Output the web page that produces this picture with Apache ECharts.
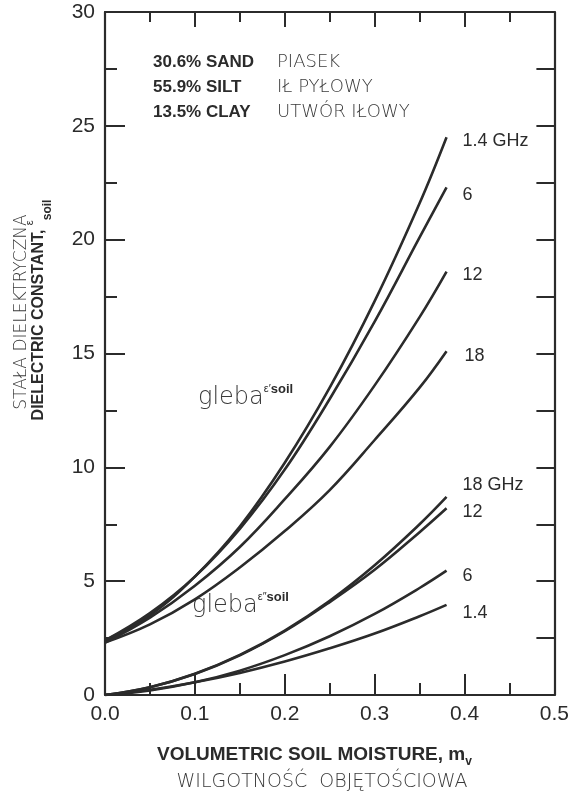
<!DOCTYPE html>
<html>
<head>
<meta charset="utf-8">
<script src="https://cdn.jsdelivr.net/npm/echarts@6/dist/echarts.min.js"></script>
<style>
  html, body { margin: 0; padding: 0; background: #fff; }
  #chart { width: 572px; height: 798px; }
</style>
</head>
<body>
<div id="chart"></div>
<script>
// wilgotnosc objetosciowa (m_v)
const moisture = [0, 0.05, 0.1, 0.15, 0.2, 0.25, 0.3, 0.35, 0.38];

// eps' (czesc rzeczywista)
const real14 = [2.4, 3.5, 5.2, 7.4, 10.2, 13.5, 17.3, 21.6, 24.5];
const real6  = [2.4, 3.6, 5.2, 7.3, 9.9, 13.0, 16.4, 20.1, 22.3];
const real12 = [2.3, 3.4, 4.8, 6.5, 8.6, 10.9, 13.6, 16.6, 18.6];
const real18 = [2.3, 3.1, 4.2, 5.6, 7.2, 9.0, 11.2, 13.5, 15.1];

// eps'' (czesc urojona)
const imag18 = [0, 0.34, 0.93, 1.76, 2.83, 4.14, 5.7, 7.5, 8.7];
const imag12 = [0, 0.34, 0.92, 1.74, 2.8, 4.08, 5.5, 7.15, 8.2];
const imag6  = [0, 0.2, 0.56, 1.07, 1.75, 2.58, 3.56, 4.7, 5.46];
const imag14 = [0, 0.23, 0.56, 0.97, 1.47, 2.05, 2.7, 3.46, 3.96];

const curveLabels = ['1.4 GHz', '6', '12', '18', '18 GHz', '12', '6', '1.4'];
const xTicks = [0, 0.1, 0.2, 0.3, 0.4, 0.5];
const yTicks = [0, 5, 10, 15, 20, 25, 30];

const INK = '#2b2b2b';
const GREY = '#3a3a3a';
const FONT = '"Liberation Sans", Arial, sans-serif';
const THIN = '"DejaVu Sans", sans-serif';

function pairs(ys) {
    return ys.map((y, i) => [moisture[i], y]);
}

const curves = [real14, real6, real12, real18, imag18, imag12, imag6, imag14];
const labelOffsets = [[8, 4], [8, 8], [8, 3], [10, 5], [8, -12], [8, 4], [8, 5], [8, 8]];

const series = curves.map((ys, i) => ({
    type: 'line',
    data: pairs(ys),
    smooth: 0.4,
    showSymbol: false,
    silent: true,
    lineStyle: { color: INK, width: 2.6 },
    endLabel: {
        show: true,
        formatter: curveLabels[i],
        offset: labelOffsets[i],
        color: INK,
        fontFamily: FONT,
        fontSize: 18
    },
    animation: false
}));

const baseAxis = {
    axisLine: { show: true, onZero: false, lineStyle: { color: INK, width: 2.2 } },
    splitLine: { show: false },
    minorSplitLine: { show: false }
};

// tekst z indeksem dolnym / gornym
const subRich = {
    t: { fontFamily: FONT, fontWeight: 'bold', fontSize: 19, fill: INK, lineHeight: 26, verticalAlign: 'middle' },
    y: { fontFamily: FONT, fontWeight: 'bold', fontSize: 16, fill: INK, lineHeight: 26, verticalAlign: 'middle' },
    g: { fontFamily: THIN, fontWeight: 200, fontSize: 24, fill: GREY, lineHeight: 30, verticalAlign: 'middle' },
    sup: { fontFamily: FONT, fontSize: 11, fill: INK, lineHeight: 30, verticalAlign: 'top' },
    sub: { fontFamily: FONT, fontWeight: 'bold', fontSize: 12, fill: INK, lineHeight: 26, verticalAlign: 'bottom' },
    sub2: { fontFamily: FONT, fontWeight: 'bold', fontSize: 13, fill: INK, lineHeight: 28, verticalAlign: 'top' }
};

const chart = echarts.init(document.getElementById('chart'));
chart.setOption({
    animation: false,
    backgroundColor: '#fff',
    grid: { left: 105, right: 12, top: 12, bottom: 103 },
    xAxis: [
        Object.assign({}, baseAxis, {
            type: 'value', min: xTicks[0], max: xTicks[xTicks.length - 1], interval: 0.1,
            position: 'bottom',
            axisTick: { inside: true, length: 21, lineStyle: { color: INK, width: 2 } },
            minorTick: { show: true, splitNumber: 2, length: 12, lineStyle: { color: INK, width: 2 } },
            axisLabel: { margin: 9, color: INK, fontFamily: FONT, fontSize: 21, formatter: v => v.toFixed(1) }
        }),
        Object.assign({}, baseAxis, {
            type: 'value', min: xTicks[0], max: xTicks[xTicks.length - 1], interval: 0.1,
            position: 'top',
            axisTick: { inside: true, length: 15, lineStyle: { color: INK, width: 2 } },
            minorTick: { show: true, splitNumber: 2, length: 10, lineStyle: { color: INK, width: 2 } },
            axisLabel: { show: false }
        })
    ],
    yAxis: [
        Object.assign({}, baseAxis, {
            type: 'value', min: yTicks[0], max: yTicks[yTicks.length - 1], interval: 5,
            position: 'left',
            axisTick: { inside: true, length: 20, lineStyle: { color: INK, width: 2 } },
            minorTick: { show: true, splitNumber: 2, length: 12, lineStyle: { color: INK, width: 2 } },
            axisLabel: { margin: 10, color: INK, fontFamily: FONT, fontSize: 21 }
        }),
        Object.assign({}, baseAxis, {
            type: 'value', min: yTicks[0], max: yTicks[yTicks.length - 1], interval: 5,
            position: 'right',
            axisTick: { inside: true, length: 18, lineStyle: { color: INK, width: 2 } },
            minorTick: { show: true, splitNumber: 2, length: 18, lineStyle: { color: INK, width: 2 } },
            axisLabel: { show: false }
        })
    ],
    series: series,
    graphic: [
        // sklad gleby
        { type: 'text', x: 153, y: 62, style: { text: '30.6% SAND', font: 'bold 17px ' + FONT, fill: INK, textVerticalAlign: 'middle' } },
        { type: 'text', x: 153, y: 87, style: { text: '55.9% SILT', font: 'bold 17px ' + FONT, fill: INK, textVerticalAlign: 'middle' } },
        { type: 'text', x: 153, y: 112, style: { text: '13.5% CLAY', font: 'bold 17px ' + FONT, fill: INK, textVerticalAlign: 'middle' } },
        { type: 'text', x: 277, y: 62, style: { text: 'PIASEK', font: '200 18px ' + THIN, fill: GREY, textVerticalAlign: 'middle' } },
        { type: 'text', x: 277, y: 87, style: { text: 'IŁ PYŁOWY', font: '200 18px ' + THIN, fill: GREY, textVerticalAlign: 'middle' } },
        { type: 'text', x: 277, y: 112, style: { text: 'UTWÓR IŁOWY', font: '200 18px ' + THIN, fill: GREY, textVerticalAlign: 'middle' } },

        // gleba eps' i eps''
        { type: 'text', x: 198, y: 398, style: { text: '{g|gleba}{sup|ε\u2032}{sub2|soil}', rich: subRich, textVerticalAlign: 'middle' } },
        { type: 'text', x: 192, y: 606, style: { text: '{g|gleba}{sup|ε\u2033}{sub2|soil}', rich: subRich, textVerticalAlign: 'middle' } },

        // tytul osi X
        { type: 'text', x: 157, y: 755, style: { text: '{t|VOLUMETRIC SOIL MOISTURE, m}{sub|v}', rich: subRich, textVerticalAlign: 'middle' } },
        { type: 'text', x: 322, y: 782, style: { text: 'WILGOTNOŚĆ  OBJĘTOŚCIOWA', font: '200 19px ' + THIN, fill: GREY, textAlign: 'center', textVerticalAlign: 'middle' } },

        // tytul osi Y
        {
            type: 'group', x: 22, y: 312, rotation: Math.PI / 2,
            children: [
                { type: 'text', x: 0, y: 0, style: { text: 'STAŁA DIELEKTRYCZNA', font: '200 17px ' + THIN, fill: GREY, textAlign: 'center', textVerticalAlign: 'middle' } }
            ]
        },
        {
            type: 'group', x: 39, y: 310, rotation: Math.PI / 2,
            children: [
                { type: 'text', x: 0, y: 0, style: { text: '{y|DIELECTRIC CONSTANT, }{sup|ε}{sub|soil}', rich: subRich, textAlign: 'center', textVerticalAlign: 'middle' } }
            ]
        }
    ]
});
</script>
</body>
</html>
